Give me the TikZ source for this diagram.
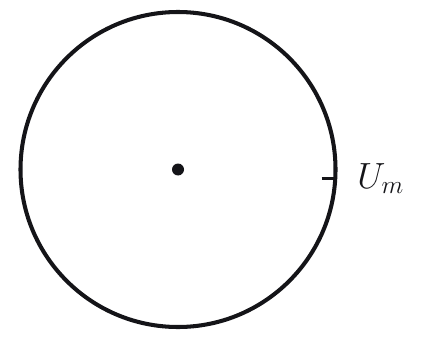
\documentclass[tikz,border=0pt]{standalone}
\usepackage{amsmath}
\usetikzlibrary{calc, positioning}
\definecolor{ink}{RGB}{20,20,24}
\tikzset{
    px/.style={x=0.02cm, y=0.02cm},
    rim/.style={draw=ink, line width=2.3pt},
    tick/.style={draw=ink, line width=1.4pt},
    centre dot/.style={circle, fill=ink, inner sep=0pt, minimum size=0.24cm},
    annot/.style={text=ink, inner sep=0pt, font=\fontsize{22}{26}\selectfont}
}
\begin{document}
\begin{tikzpicture}[px]
\useasboundingbox (0,0) rectangle (421,338);

% circle and centre
\coordinate (O) at (178,168.5);
\draw[rim] (O) circle (157.5);
\node[centre dot] (dot) at (O) {};

% marked point on the rim
\coordinate (rimpt) at ($(O)+(157.5,-9)$);
\coordinate (tickin) at ($(rimpt)+(-14,0)$);
\draw[tick] (tickin) -- (rimpt);
\node[annot, anchor=base west] (Um) at (357,150) {$U_m$};
\end{tikzpicture}
\end{document}
